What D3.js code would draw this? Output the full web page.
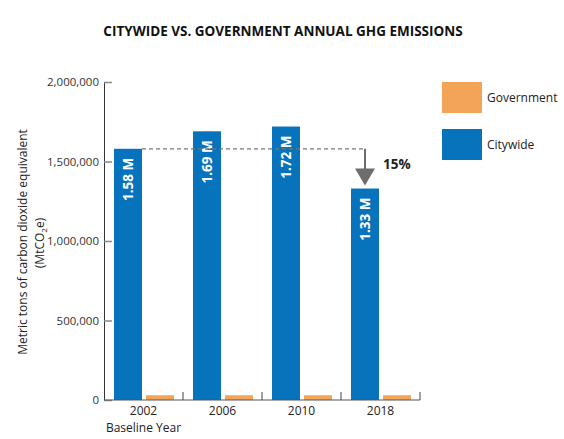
<!DOCTYPE html>
<html><head><meta charset="utf-8">
<script src="https://cdn.jsdelivr.net/npm/d3@7"></script>
<style>body{margin:0;background:#fff;} svg{display:block;font-family:"Open Sans",sans-serif;}</style>
</head><body>
<svg id="c" width="564" height="439"></svg>
<script>
const years = ["2002", "2006", "2010", "2018"];
const citywide = [1580000, 1690000, 1720000, 1330000];
const government = [30000, 30000, 30000, 30000];
const barLabels = ["1.58 M", "1.69 M", "1.72 M", "1.33 M"];
const yTicks = [0, 500000, 1000000, 1500000, 2000000];
const reductionLabel = "15%";
const seriesNames = ["Government", "Citywide"];
const colors = {Government: "#f3a458", Citywide: "#0873bd"};

const svg = d3.select("#c");
const x0 = d3.scaleBand().domain(years).range([104, 420]).paddingInner(0).paddingOuter(0);
const x1 = d3.scaleBand().domain(["Citywide","Government"]).range([10, x0.bandwidth()-9]).paddingInner(0.125);
const y = d3.scaleLinear().domain([0, 2000000]).range([400, 82]);

// title
svg.append("text").attr("x", 283).attr("y", 36).attr("text-anchor","middle")
  .attr("font-size", 13.5).attr("font-weight", "bold").attr("fill","#111")
  .text("CITYWIDE VS. GOVERNMENT ANNUAL GHG EMISSIONS");

// y axis
const yAxis = svg.append("g").attr("transform","translate(104,0)")
  .call(d3.axisLeft(y).tickValues(yTicks).tickFormat(d3.format(",")).tickSizeInner(-8).tickSizeOuter(0).tickPadding(5));
yAxis.select(".domain").attr("stroke","#333");
yAxis.selectAll(".tick line").attr("stroke","#888").attr("stroke-width",1.5);
yAxis.selectAll(".tick text").attr("font-size",11.5).attr("fill","#333").attr("font-family","Open Sans, sans-serif");

// bars
const g = svg.append("g");
years.forEach((yr,i)=>{
  const bx = x0(yr);
  g.append("rect").attr("x", bx + x1("Citywide")).attr("width", x1.bandwidth())
    .attr("y", y(citywide[i])).attr("height", y(0)-y(citywide[i])).attr("fill", colors.Citywide);
  g.append("rect").attr("x", bx + x1("Government")).attr("width", x1.bandwidth())
    .attr("y", y(government[i])).attr("height", y(0)-y(government[i])).attr("fill", colors.Government);
  const cx = bx + x1("Citywide") + x1.bandwidth()/2;
  g.append("text").attr("transform", `translate(${cx+5},${y(citywide[i])+9}) rotate(-90)`)
    .attr("text-anchor","end").attr("font-size",13.5).attr("font-weight","bold").attr("fill","#fff")
    .text(barLabels[i]);
});

// x axis
const xAxis = svg.append("g").attr("transform","translate(0,400)");
xAxis.append("line").attr("x1",104).attr("x2",420).attr("y1",0).attr("y2",0).attr("stroke","#555").attr("stroke-width",1);
years.forEach((yr,i)=>{
  const tx = x0(yr)+x0.bandwidth();
  xAxis.append("line").attr("x1",tx).attr("x2",tx).attr("y1",0).attr("y2",-8).attr("stroke","#444");
  xAxis.append("text").attr("x", x0(yr)+x0.bandwidth()/2).attr("y", 15).attr("text-anchor","middle")
    .attr("font-size",12).attr("fill","#222").text(yr);
});
xAxis.append("text").attr("x", x0("2002")+x0.bandwidth()/2).attr("y", 31.5).attr("text-anchor","middle")
  .attr("font-size",12).attr("fill","#222").text("Baseline Year");

// dashed reference line and arrow
const baseY = y(citywide[0]);
const lastX = x0("2018") + x1("Citywide") + x1.bandwidth()/2;
svg.append("line").attr("x1", x0("2002")+x1("Citywide")+x1.bandwidth()).attr("x2", lastX)
  .attr("y1", baseY).attr("y2", baseY).attr("stroke","#777").attr("stroke-dasharray","4,3").attr("stroke-width",1.2);
const tipY = y(citywide[3]) - 3;
svg.append("line").attr("x1",lastX).attr("x2",lastX).attr("y1",baseY).attr("y2",tipY-14)
  .attr("stroke","#6d6d6d").attr("stroke-width",2);
svg.append("path").attr("d", `M${lastX-10},${tipY-17} L${lastX+10},${tipY-17} L${lastX},${tipY} Z`).attr("fill","#6d6d6d");
svg.append("text").attr("x", lastX+18).attr("y", 169).attr("font-size",13.5).attr("font-weight","bold").attr("fill","#222")
  .text(reductionLabel);

// y label
const yl = svg.append("text").attr("transform","translate(27,242) rotate(-90)").attr("text-anchor","middle")
  .attr("font-size",12).attr("fill","#222");
yl.append("tspan").attr("x",0).attr("dy",0).text("Metric tons of carbon dioxide equivalent");
const yl2 = svg.append("text").attr("transform","translate(44,243) rotate(-90)").attr("text-anchor","middle")
  .attr("font-size",12).attr("fill","#222");
yl2.append("tspan").text("(MtCO");
yl2.append("tspan").attr("font-size",8).attr("dy",3).text("2");
yl2.append("tspan").attr("dy",-3).text("e)");

// legend
seriesNames.forEach((s,i)=>{
  const ly = 82 + i*47;
  svg.append("rect").attr("x",442).attr("y",ly).attr("width",40).attr("height",31).attr("fill",colors[s]);
  svg.append("text").attr("x",487).attr("y",ly+20).attr("font-size",12).attr("fill","#222").text(s);
});
</script>
</body></html>
